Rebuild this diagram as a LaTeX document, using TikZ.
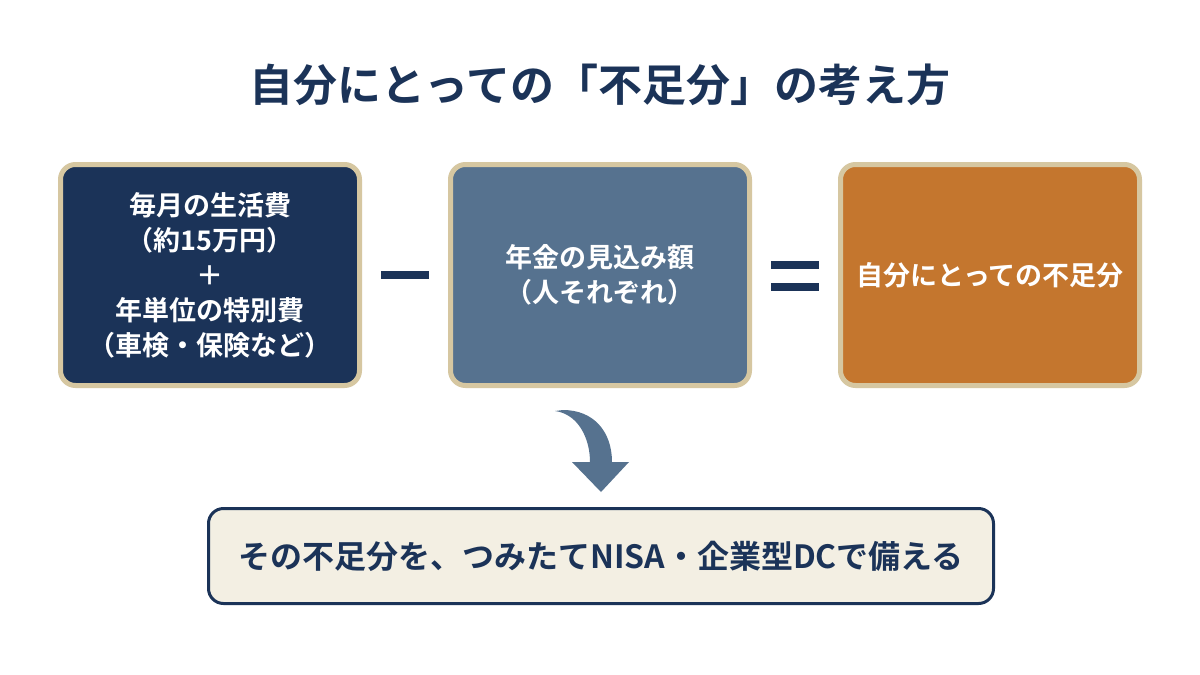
\documentclass[tikz,border=0pt]{standalone}
\usepackage{fontspec}
\setmainfont{Noto Sans CJK JP}[BoldFont={Noto Sans CJK JP Bold}]
\definecolor{navy}{HTML}{1B3358}
\definecolor{slate}{HTML}{56728F}
\definecolor{amber}{HTML}{C4762E}
\definecolor{tan}{HTML}{D6C7A1}
\definecolor{cream}{HTML}{F3EFE3}
\tikzset{
  card/.style={draw=tan, line width=5pt, rounded corners=15pt, minimum width=299pt, minimum height=221pt, text=white, align=center, font=\fontsize{27}{35}\selectfont\bfseries},
  op/.style={navy, line width=8pt},
}
\begin{document}
\begin{tikzpicture}[x=1pt,y=-1pt]
\useasboundingbox (0,0) rectangle (1200,675);
\fill[white] (0,0) rectangle (1200,675);
\node[text=navy, font=\fontsize{44}{48}\selectfont\bfseries] (title) at (600,85) {自分にとっての「不足分」の考え方};
\node[card, fill=navy] (cost) at (210,275) {毎月の生活費\\（約15万円）\\＋\\年単位の特別費\\（車検・保険など）};
\node[card, fill=slate] (pension) at (600,275) {年金の見込み額\\（人それぞれ）};
\node[card, fill=amber] (gap) at (990,275) {自分にとっての不足分};
\coordinate (m1) at (381,275);
\coordinate (m2) at (429,275);
\draw[op] (m1) -- (m2);
\coordinate (e1) at (771,265);
\coordinate (e2) at (819,265);
\coordinate (e3) at (771,287);
\coordinate (e4) at (819,287);
\draw[op] (e1) -- (e2);
\draw[op] (e3) -- (e4);
\fill[slate] (555,411) .. controls (578,414) and (590,438) .. (590,462) -- (572,462) -- (601,492) -- (629,462) -- (612,462) .. controls (612,432) and (594,410) .. (563,410) -- cycle;
\node[draw=navy, line width=3pt, fill=cream, rounded corners=15pt, minimum width=785pt, minimum height=95pt, text=navy, font=\fontsize{32}{36}\selectfont\bfseries] (plan) at (601,556) {その不足分を、つみたてNISA・企業型DCで備える};
\end{tikzpicture}
\end{document}
